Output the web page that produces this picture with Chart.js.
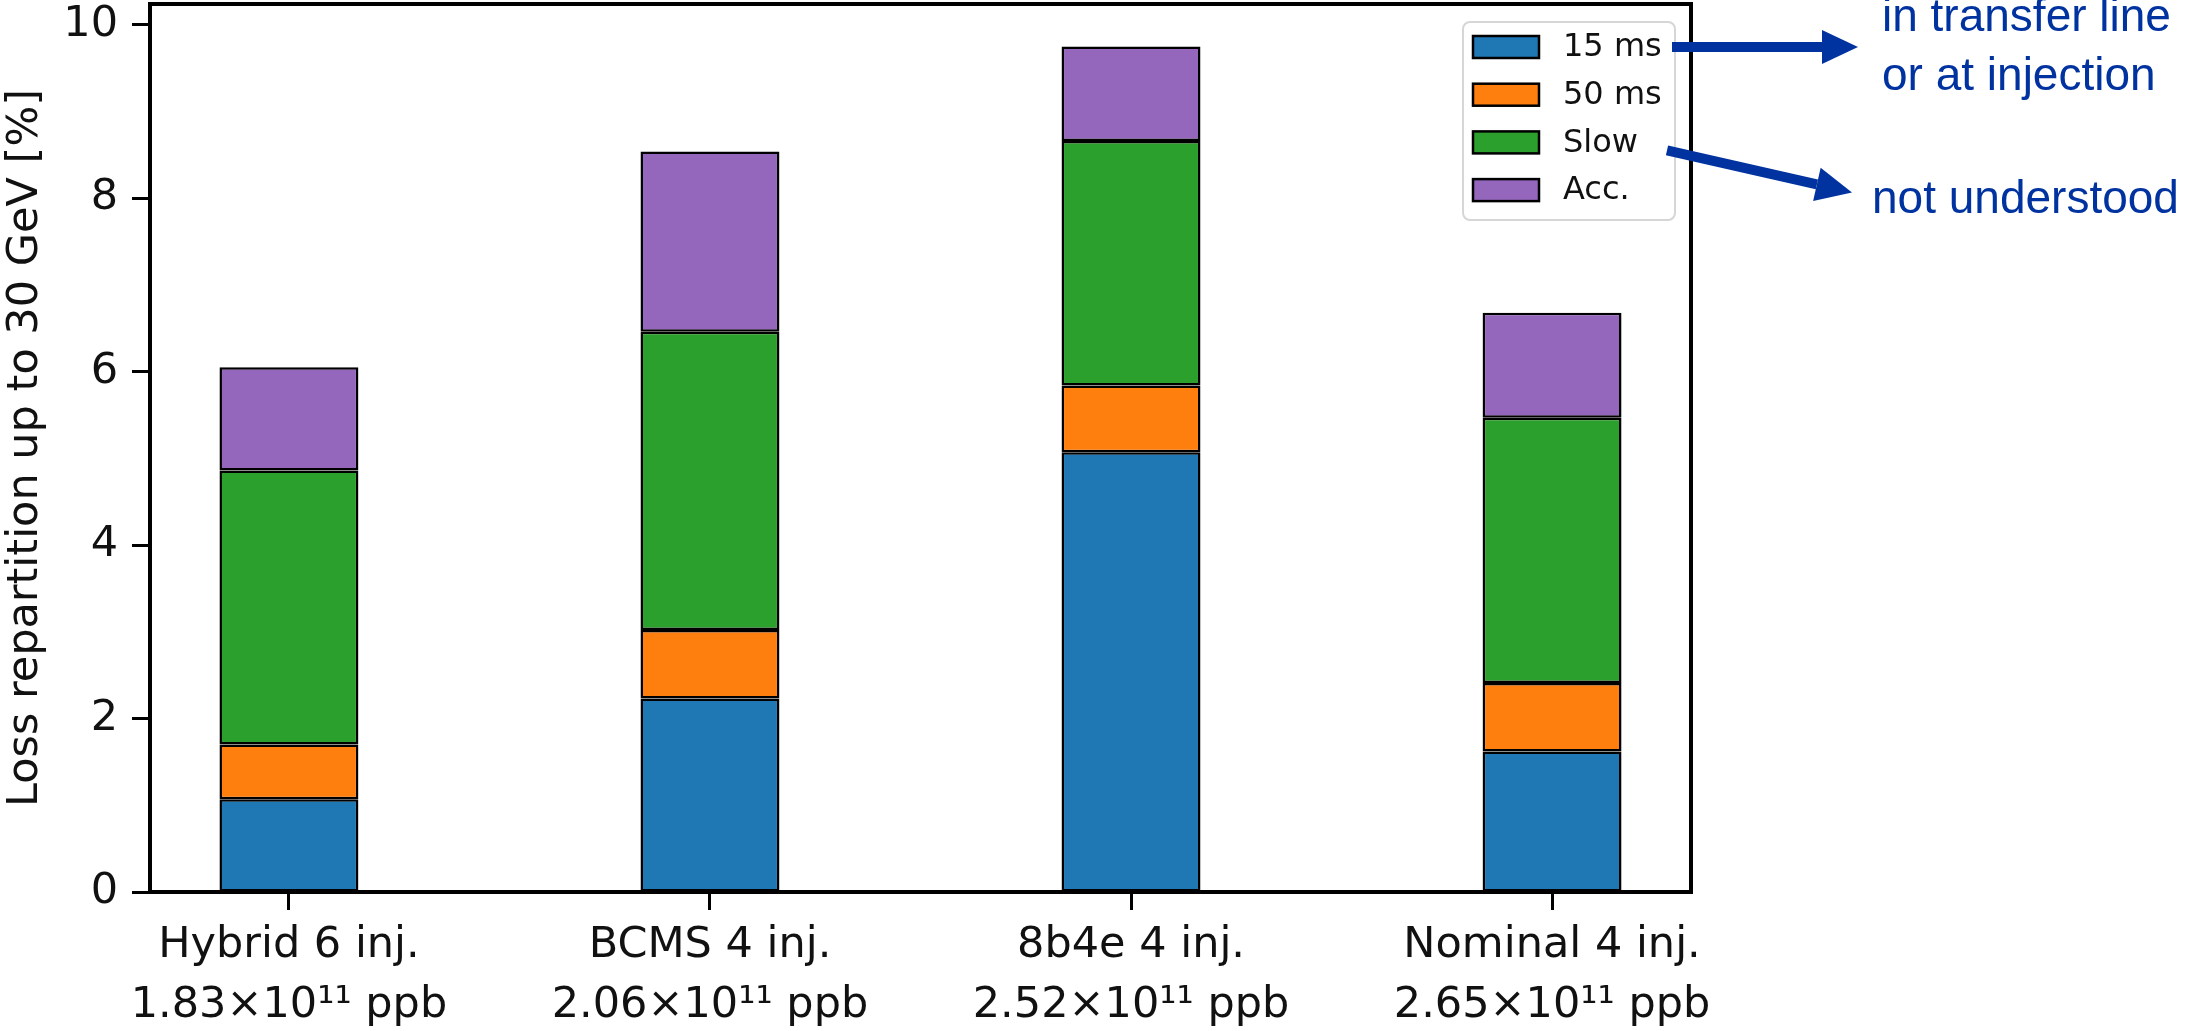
<!DOCTYPE html>
<html>
<head>
<meta charset="utf-8">
<script src="https://cdn.jsdelivr.net/npm/chart.js@4/dist/chart.umd.min.js"></script>
<style>
  html, body { margin: 0; padding: 0; background: #fff; }
  #wrap { width: 2195px; height: 1031px; position: relative; }
</style>
</head>
<body>
<div id="wrap"><canvas id="lossChart"></canvas></div>
<script>
const beamTypes = ["Hybrid 6 inj.", "BCMS 4 inj.", "8b4e 4 inj.", "Nominal 4 inj."];
const intensities = ["1.83×10¹¹ ppb", "2.06×10¹¹ ppb", "2.52×10¹¹ ppb", "2.65×10¹¹ ppb"];

const loss15ms = [1.07, 2.23, 5.07, 1.62];
const loss50ms = [0.63, 0.79, 0.77, 0.79];
const lossSlow = [3.16, 3.44, 2.82, 3.06];
const lossAcc  = [1.19, 2.08, 1.09, 1.21];

const seriesNames = ["15 ms", "50 ms", "Slow", "Acc."];
const seriesColors = ["#1f77b4", "#ff7f0e", "#2ca02c", "#9467bd"];
const yTicks = [0, 2, 4, 6, 8, 10];

const noteColor = "#0033a0";
const tickFont = { family: "DejaVu Sans", size: 43 };

function toPoints(values) {
  return values.map((v, i) => ({ x: i, y: v }));
}

const datasets = [loss15ms, loss50ms, lossSlow, lossAcc].map((values, k) => ({
  label: seriesNames[k],
  data: toPoints(values),
  backgroundColor: seriesColors[k],
  borderColor: "#000",
  borderWidth: 2.5,
  borderSkipped: false,
  barPercentage: 0.33,
  categoryPercentage: 1.0
}));

// black box around the axes, like a matplotlib frame
const framePlugin = {
  id: "frame",
  afterDatasetsDraw(chart) {
    const { ctx, chartArea: a } = chart;
    ctx.save();
    ctx.strokeStyle = "#000";
    ctx.lineWidth = 4;
    ctx.strokeRect(a.left, a.top, a.right - a.left, a.bottom - a.top);
    ctx.restore();
  }
};

function arrow(ctx, x0, y0, x1, y1) {
  const ang = Math.atan2(y1 - y0, x1 - x0);
  const headLen = 36, headHalf = 17;
  const bx = x1 - headLen * Math.cos(ang), by = y1 - headLen * Math.sin(ang);
  ctx.beginPath();
  ctx.moveTo(x0, y0);
  ctx.lineTo(bx, by);
  ctx.lineWidth = 10;
  ctx.stroke();
  ctx.beginPath();
  ctx.moveTo(x1, y1);
  ctx.lineTo(bx - headHalf * Math.sin(ang), by + headHalf * Math.cos(ang));
  ctx.lineTo(bx + headHalf * Math.sin(ang), by - headHalf * Math.cos(ang));
  ctx.closePath();
  ctx.fill();
}

// legend in the upper right corner plus the explanatory arrows beside it
const legendPlugin = {
  id: "boxLegend",
  afterDraw(chart) {
    const { ctx, chartArea: a } = chart;
    const w = 212, h = 198;
    const left = a.right - 16 - w, top = a.top + 18;
    const rowGap = 47.7;
    const rowY = i => top + 25 + i * rowGap;

    ctx.save();
    ctx.beginPath();
    ctx.roundRect(left, top, w, h, 7);
    ctx.fillStyle = "rgba(255,255,255,0.8)";
    ctx.fill();
    ctx.strokeStyle = "#d6d6d6";
    ctx.lineWidth = 2;
    ctx.stroke();

    ctx.font = "32px 'DejaVu Sans'";
    ctx.textBaseline = "middle";
    chart.data.datasets.forEach((ds, i) => {
      const y = rowY(i);
      ctx.fillStyle = ds.backgroundColor;
      ctx.fillRect(left + 10, y - 11, 66, 22);
      ctx.strokeStyle = "#000";
      ctx.lineWidth = 2.5;
      ctx.strokeRect(left + 10, y - 11, 66, 22);
      ctx.fillStyle = "#111";
      ctx.fillText(ds.label, left + 100, y + 1);
    });

    ctx.strokeStyle = noteColor;
    ctx.fillStyle = noteColor;
    arrow(ctx, left + w - 3, rowY(0), a.right + 167, rowY(0));
    arrow(ctx, left + w - 8, rowY(2) + 8, a.right + 161, rowY(2) + 50);

    ctx.font = "46px 'Liberation Sans'";
    ctx.textBaseline = "alphabetic";
    ctx.fillText("in transfer line", a.right + 191, 31);
    ctx.fillText("or at injection", a.right + 191, 90);
    ctx.fillText("not understood", a.right + 181, 213);
    ctx.restore();
  }
};

const tickGrid = {
  drawOnChartArea: false,
  drawTicks: true,
  offset: false,
  tickLength: 18,
  tickWidth: 3,
  tickColor: "#000"
};

new Chart(document.getElementById("lossChart"), {
  type: "bar",
  data: { datasets: datasets },
  options: {
    responsive: true,
    maintainAspectRatio: false,
    animation: false,
    layout: { padding: { top: 4, right: 504, left: 0, bottom: 0 } },
    plugins: {
      legend: { display: false },
      tooltip: { enabled: false }
    },
    scales: {
      x: {
        type: "linear",
        stacked: true,
        offset: false,
        min: -0.33,
        max: 3.33,
        border: { display: false },
        grid: tickGrid,
        afterBuildTicks: scale => {
          scale.ticks = beamTypes.map((_, i) => ({ value: i }));
        },
        afterFit: scale => {
          scale.height = 139;
          scale.paddingLeft = 0;
          scale.paddingRight = 0;
        },
        ticks: {
          color: "#111",
          font: { ...tickFont, lineHeight: 1.4 },
          padding: 6,
          maxRotation: 0,
          autoSkip: false,
          callback: value => [beamTypes[value], intensities[value]]
        }
      },
      y: {
        stacked: true,
        min: 0,
        max: 10.24,
        border: { display: false },
        grid: tickGrid,
        afterBuildTicks: scale => {
          scale.ticks = yTicks.map(v => ({ value: v }));
        },
        afterFit: scale => {
          scale.width = 150;
          scale.paddingTop = 0;
          scale.paddingBottom = 0;
        },
        ticks: {
          color: "#111",
          font: tickFont,
          padding: 14
        },
        title: {
          display: true,
          text: "Loss repartition up to 30 GeV [%]",
          color: "#111",
          font: { family: "DejaVu Sans", size: 43, lineHeight: 1.2 },
          padding: { top: 0, bottom: 0 }
        }
      }
    }
  },
  plugins: [framePlugin, legendPlugin]
});
</script>
</body>
</html>
